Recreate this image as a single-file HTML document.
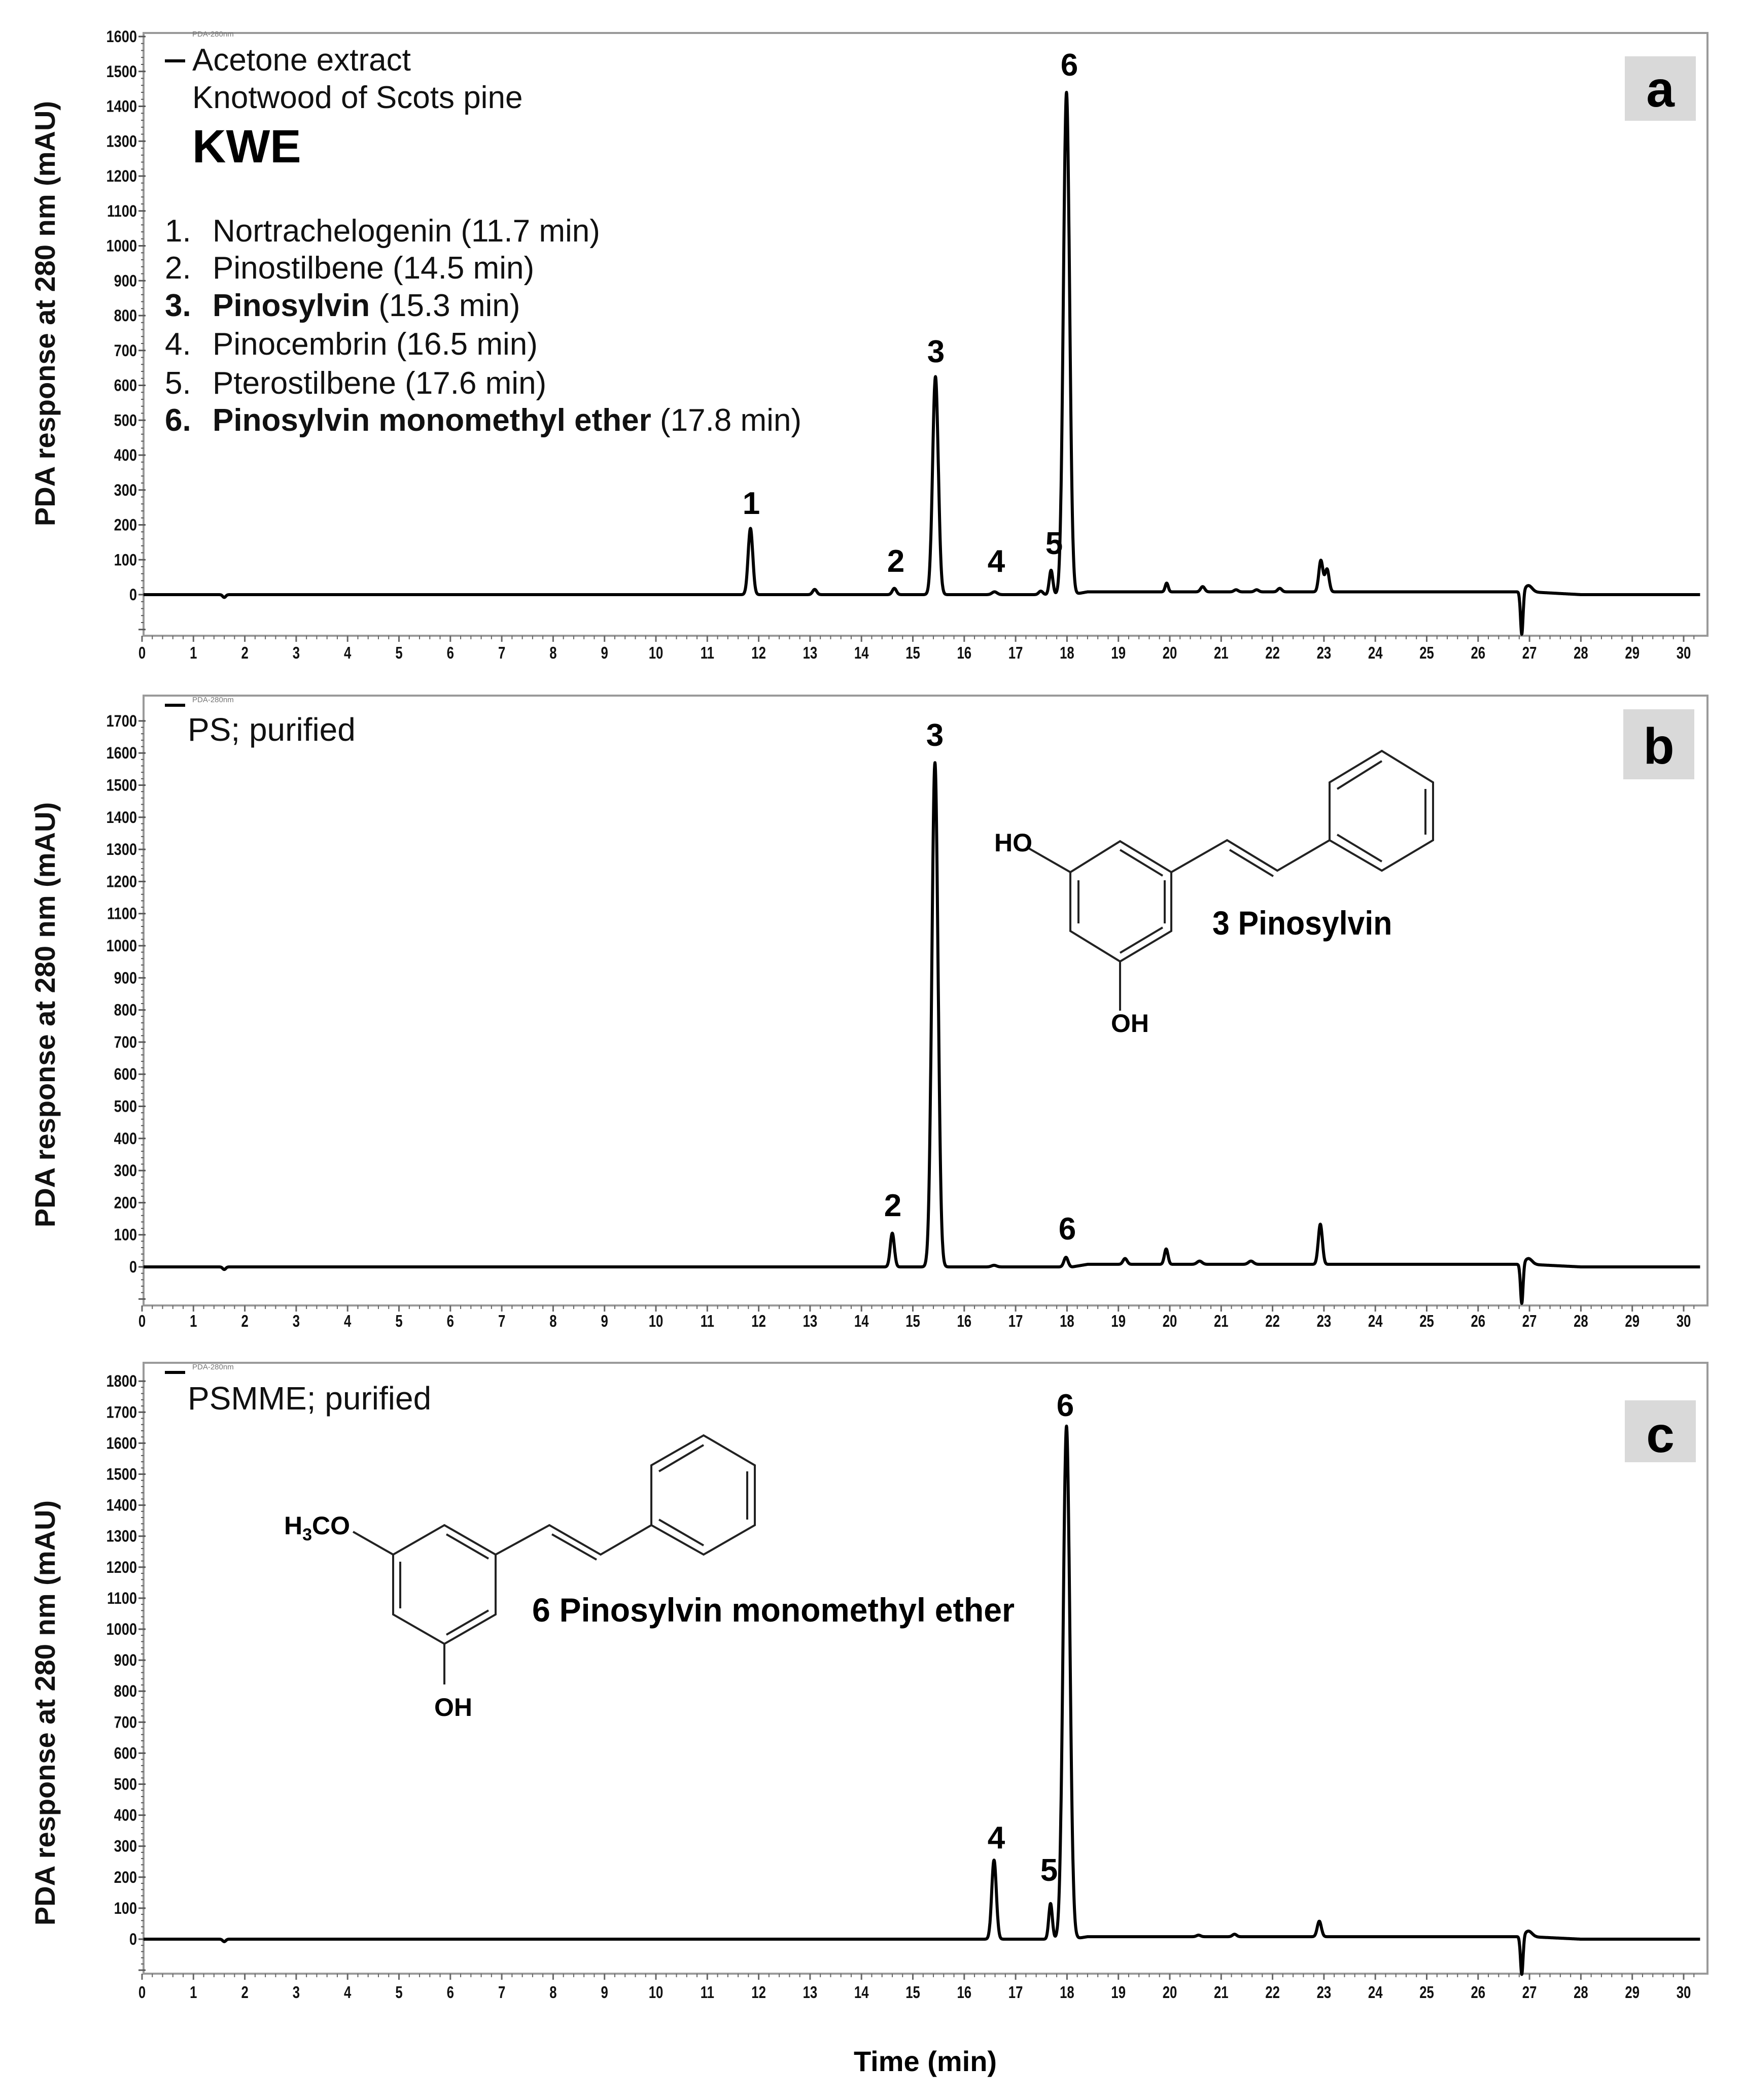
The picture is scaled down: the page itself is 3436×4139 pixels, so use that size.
<!DOCTYPE html>
<html><head><meta charset="utf-8">
<style>
html,body{margin:0;padding:0;background:#fff;}
svg{display:block;}
text{font-family:"Liberation Sans",Arial,sans-serif;}
</style></head>
<body>
<svg id="s" width="3436" height="4139" viewBox="0 0 3436 4139" xmlns="http://www.w3.org/2000/svg">
<rect width="3436" height="4139" fill="#fff"/>
<g id="g"></g>

<!-- Panel a texts -->
<text x="379" y="72" font-size="15" fill="#777">PDA-280nm</text>
<rect x="325" y="117" width="40" height="6" fill="#000"/>
<text x="379" y="139" font-size="62" fill="#111">Acetone extract</text>
<text x="379" y="213" font-size="62" fill="#111">Knotwood of Scots pine</text>
<text x="379" y="320" font-size="92" font-weight="bold" fill="#000">KWE</text>
<g font-size="62" fill="#111">
<text x="325" y="476">1.</text><text x="419" y="476">Nortrachelogenin (11.7 min)</text>
<text x="325" y="549">2.</text><text x="419" y="549">Pinostilbene (14.5 min)</text>
<text x="325" y="623" font-weight="bold">3.</text><text x="419" y="623"><tspan font-weight="bold">Pinosylvin</tspan> (15.3 min)</text>
<text x="325" y="699">4.</text><text x="419" y="699">Pinocembrin (16.5 min)</text>
<text x="325" y="776">5.</text><text x="419" y="776">Pterostilbene (17.6 min)</text>
<text x="325" y="849" font-weight="bold">6.</text><text x="419" y="849"><tspan font-weight="bold">Pinosylvin monomethyl ether</tspan> (17.8 min)</text>
</g>
<rect x="3203" y="111" width="140" height="127" fill="#d9d9d9"/>
<text x="3273" y="210" font-size="100" font-weight="bold" text-anchor="middle">a</text>
<g font-size="62" font-weight="bold" text-anchor="middle">
<text x="1481" y="1013">1</text>
<text x="1766" y="1127">2</text>
<text x="1845" y="714">3</text>
<text x="1964" y="1127">4</text>
<text x="2078" y="1092">5</text>
<text x="2108" y="149">6</text>
</g>

<!-- Panel b texts -->
<text x="379" y="1384" font-size="15" fill="#777">PDA-280nm</text>
<rect x="325" y="1387" width="40" height="6" fill="#000"/>
<text x="370" y="1460" font-size="64" fill="#111">PS; purified</text>
<rect x="3200" y="1398" width="140" height="138" fill="#d9d9d9"/>
<text x="3270" y="1505" font-size="100" font-weight="bold" text-anchor="middle">b</text>
<g font-size="62" font-weight="bold" text-anchor="middle">
<text x="1843" y="1470">3</text>
<text x="1760" y="2397">2</text>
<text x="2104" y="2443">6</text>
</g>
<g stroke="#222" stroke-width="4" fill="none">
<polygon points="2208,1658 2309,1719 2309,1835 2208,1895 2110,1835 2110,1719"/>
<line x1="2296" y1="1735" x2="2296" y2="1820"/>
<line x1="2208" y1="1675" x2="2292" y2="1726"/>
<line x1="2126" y1="1820" x2="2126" y2="1735"/>
<line x1="2208" y1="1878" x2="2292" y2="1828"/>
<line x1="2110" y1="1719" x2="2028" y2="1672"/>
<line x1="2208" y1="1895" x2="2208" y2="1992"/>
<polyline points="2309,1719 2419,1656 2518,1716 2621,1656"/>
<line x1="2424" y1="1675" x2="2510" y2="1727"/>
<polygon points="2621,1656 2621,1542 2724,1480 2825,1542 2825,1656 2724,1716"/>
<line x1="2636" y1="1555" x2="2724" y2="1500"/>
<line x1="2810" y1="1555" x2="2810" y2="1645"/>
<line x1="2636" y1="1645" x2="2724" y2="1698"/>
</g>
<text x="1960" y="1678" font-size="50" font-weight="bold">HO</text>
<text x="2190" y="2034" font-size="50" font-weight="bold">OH</text>
<text x="0" y="0" font-size="66" font-weight="bold" transform="translate(2390,1842) scale(0.92,1)">3 Pinosylvin</text>

<!-- Panel c texts -->
<text x="379" y="2699" font-size="15" fill="#777">PDA-280nm</text>
<rect x="325" y="2702" width="40" height="6" fill="#000"/>
<text x="370" y="2778" font-size="64" fill="#111">PSMME; purified</text>
<rect x="3203" y="2760" width="140" height="122" fill="#d9d9d9"/>
<text x="3273" y="2862" font-size="100" font-weight="bold" text-anchor="middle">c</text>
<g font-size="62" font-weight="bold" text-anchor="middle">
<text x="2100" y="2791">6</text>
<text x="1964" y="3643">4</text>
<text x="2068" y="3707">5</text>
</g>
<g stroke="#222" stroke-width="4" fill="none">
<polygon points="876,3006 977,3064 977,3182 876,3240 775,3182 775,3064"/>
<line x1="880" y1="3024" x2="963" y2="3072"/>
<line x1="963" y1="3174" x2="880" y2="3222"/>
<line x1="789" y1="3078" x2="789" y2="3170"/>
<line x1="775" y1="3064" x2="696" y2="3019"/>
<line x1="876" y1="3240" x2="876" y2="3320"/>
<polyline points="977,3064 1083,3006 1184,3064 1284,3006"/>
<line x1="1088" y1="3024" x2="1176" y2="3074"/>
<polygon points="1284,3006 1284,2888 1387,2829 1488,2888 1488,3006 1387,3064"/>
<line x1="1299" y1="2900" x2="1387" y2="2848"/>
<line x1="1473" y1="2900" x2="1473" y2="2995"/>
<line x1="1299" y1="2995" x2="1387" y2="3046"/>
</g>
<text x="560" y="3024" font-size="50" font-weight="bold">H<tspan font-size="34" dy="12">3</tspan><tspan dy="-12">CO</tspan></text>
<text x="856" y="3382" font-size="50" font-weight="bold">OH</text>
<text x="0" y="0" font-size="66" font-weight="bold" transform="translate(1049,3196) scale(0.975,1)">6 Pinosylvin  monomethyl ether</text>

<text x="1824" y="4082" font-size="56" font-weight="bold" text-anchor="middle">Time (min)</text>
</svg>
<script>
(function(){
var NS="http://www.w3.org/2000/svg", g=document.getElementById('g');
function el(n,a,t){var e=document.createElementNS(NS,n);for(var k in a)e.setAttribute(k,a[k]);if(t!=null)e.textContent=t;g.appendChild(e);return e;}
var L=283,R=3366;
function X(t){return 280+101.3*t;}
var panels=[
 {top:65,bot:1253,zero:1172,s:0.6875,max:1600,xl:1298,yc:618,sh:0.09,
  peaks:[[1.6,-8,0.03],[11.75,190,0.045],[13.0,15,0.04],[14.55,18,0.04],[15.35,625,0.055],[16.5,8,0.05],[17.4,10,0.04],[17.6,70,0.035],[17.9,1440,0.06],[19.85,25,0.03],[20.55,15,0.04],[21.2,6,0.04],[21.6,6,0.04],[22.05,10,0.04],[22.85,90,0.04],[22.97,65,0.04]]},
 {top:1371,bot:2573,zero:2497,s:0.633,max:1700,xl:2615,yc:2000,sh:0.08,
  peaks:[[1.6,-8,0.03],[14.52,105,0.04],[15.35,1570,0.06],[16.5,5,0.05],[17.9,30,0.04],[19.05,18,0.04],[19.85,48,0.035],[20.5,10,0.05],[21.5,10,0.05],[22.85,125,0.04]]},
 {top:2686,bot:3890,zero:3822,s:0.611,max:1800,xl:3938,yc:3376,sh:0.06,
  peaks:[[1.6,-8,0.03],[16.52,255,0.045],[17.62,115,0.035],[17.93,1655,0.065],[20.5,5,0.04],[21.2,8,0.04],[22.85,50,0.04]]}
];
panels.forEach(function(p){
 el('rect',{x:L,y:p.top,width:R-L,height:p.bot-p.top,fill:'none',stroke:'#9a9a9a','stroke-width':4});
 for(var v=-100;v<=p.max;v+=20){
   var y=p.zero-v*p.s; if(y<p.top||y>p.bot)continue;
   var maj=(v%100===0);
   el('line',{x1:L-(maj?10:5),y1:y,x2:L+(maj?4:0),y2:y,stroke:'#555','stroke-width':maj?3:2});
   if(maj&&v>=0) el('text',{x:0,y:0,'font-size':32,'font-weight':'bold','text-anchor':'end',fill:'#111',transform:'translate(270,'+(y+11)+') scale(0.85,1)'},''+v);
 }
 for(var i=0;i<=151;i++){
   var t=i*0.2,x=X(t); if(x>R)break;
   var maj=(i%5===0);
   el('line',{x1:x,y1:p.bot,x2:x,y2:p.bot+(maj?12:7),stroke:'#666','stroke-width':maj?3:2});
   if(maj){el('text',{x:0,y:0,'font-size':33,'font-weight':'bold','text-anchor':'middle',fill:'#111',transform:'translate('+x+','+p.xl+') scale(0.78,1)'},''+(i/5));}
 }
 el('text',{x:0,y:0,'font-size':56,'font-weight':'bold','text-anchor':'middle',fill:'#111',transform:'translate(108,'+p.yc+') rotate(-90)'},'PDA response at 280 nm (mAU)');
 var d='';
 for(var t=0.03;t<=30.32;t+=0.005){
   var v=0;
   if(t>18.1&&t<27) v+=8*Math.min(1,(t-18.1)/0.3);
   if(t>=27&&t<28) v+=8*(1-(t-27));
   for(var k=0;k<p.peaks.length;k++){var q=p.peaks[k],c=q[0]+(q[0]>5?p.sh:0),dd=(t-c)/q[2];if(Math.abs(dd)<6)v+=q[1]*Math.exp(-dd*dd/2);}
   var dd1=(t-26.85)/0.025; v+=-125*Math.exp(-dd1*dd1/2);
   var dd2=(t-26.98)/0.07; v+=18*Math.exp(-dd2*dd2/2);
   var y=p.zero-v*p.s;
   d+=(d?'L':'M')+X(t).toFixed(1)+','+y.toFixed(1);
 }
 el('path',{d:d,fill:'none',stroke:'#000','stroke-width':6,'stroke-linejoin':'round'});
});
})();
</script>
</body></html>
